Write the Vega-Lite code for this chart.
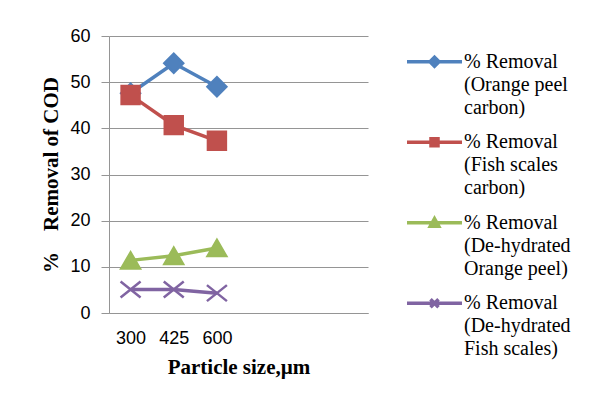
{
  "$schema": "https://vega.github.io/schema/vega-lite/v6.json",
  "autosize": "none",
  "width": 259,
  "height": 277,
  "padding": {"left": 109, "top": 36, "right": 228, "bottom": 95},
  "background": "white",
  "title": {"text": "COD", "offset": 35, "dx": 28, "fontSize": 20, "font": "Liberation Serif", "fontWeight": "bold", "color": "#000"},
  "config": {"view": {"stroke": null}},
  "data": {"values": [
    {"size": "300", "series": "Orange peel carbon", "value": 47.6},
    {"size": "425", "series": "Orange peel carbon", "value": 54.1},
    {"size": "600", "series": "Orange peel carbon", "value": 49.0},
    {"size": "300", "series": "Fish scales carbon", "value": 47.2},
    {"size": "425", "series": "Fish scales carbon", "value": 40.7},
    {"size": "600", "series": "Fish scales carbon", "value": 37.3},
    {"size": "300", "series": "De-hydrated Orange peel", "value": 11.4},
    {"size": "425", "series": "De-hydrated Orange peel", "value": 12.4},
    {"size": "600", "series": "De-hydrated Orange peel", "value": 14.1},
    {"size": "300", "series": "De-hydrated Fish scales", "value": 5.1},
    {"size": "425", "series": "De-hydrated Fish scales", "value": 5.1},
    {"size": "600", "series": "De-hydrated Fish scales", "value": 4.3}
  ]},
  "encoding": {
    "x": {
      "field": "size", "type": "ordinal",
      "scale": {"type": "point", "domain": ["300", "425", "600", "e1", "e2", "e3"], "padding": 0.5},
      "axis": {
        "title": "Particle size,µm", "titleFont": "Liberation Serif", "titleFontSize": 21, "titleFontWeight": "bold", "titleColor": "#000", "titlePadding": 9,
        "labelExpr": "indexof(['300','425','600'], datum.label) >= 0 ? datum.label : ''",
        "labelFont": "Liberation Sans", "labelFontSize": 18, "labelColor": "#000", "labelAngle": 0, "labelPadding": 16,
        "ticks": false, "domainColor": "#959595", "domainWidth": 1, "grid": false
      }
    },
    "y": {
      "field": "value", "type": "quantitative",
      "scale": {"domain": [0, 60], "nice": false},
      "axis": {
        "title": "%\u00a0\u00a0\u00a0\u00a0Removal of COD", "titleFont": "Liberation Serif", "titleFontSize": 21, "titleFontWeight": "bold", "titleColor": "#000", "titlePadding": 8,
        "values": [0, 10, 20, 30, 40, 50, 60],
        "labelFont": "Liberation Sans", "labelFontSize": 18, "labelColor": "#000", "labelPadding": 11,
        "tickSize": 8, "tickColor": "#959595", "domainColor": "#959595", "gridColor": "#959595", "grid": true
      }
    }
  },
  "layer": [
    {
      "mark": {"type": "line", "strokeWidth": 3.5},
      "encoding": {
        "color": {
          "field": "series", "type": "nominal",
          "scale": {"domain": ["Orange peel carbon", "Fish scales carbon", "De-hydrated Orange peel", "De-hydrated Fish scales"], "range": ["#4F81BD", "#C0504D", "#9BBB59", "#8064A2"]},
          "legend": {
            "title": null, "orient": "none", "legendX": 313.5, "legendY": 13.7, "padding": 0,
            "symbolSize": 400, "labelFont": "Liberation Serif", "labelFontSize": 20, "labelColor": "#000",
            "labelOffset": 17.5, "rowPadding": 12.5, "labelLimit": 300,
            "labelExpr": "datum.label == 'Orange peel carbon' ? ['% Removal','(Orange peel','carbon)'] : datum.label == 'Fish scales carbon' ? ['% Removal','(Fish scales','carbon)'] : datum.label == 'De-hydrated Orange peel' ? ['% Removal','(De-hydrated','Orange peel)'] : ['% Removal','(De-hydrated','Fish scales)']",
            "encode": {
              "symbols": {"update": {
                "shape": {"signal": "datum.value == 'Orange peel carbon' ? 'M-2.75,0H2.75M0,-0.45L0.45,0L0,0.45L-0.45,0Z' : datum.value == 'Fish scales carbon' ? 'M-2.75,0H2.75M-0.35,-0.35H0.35V0.35H-0.35Z' : datum.value == 'De-hydrated Orange peel' ? 'M-2.75,0H2.75M0,-0.4L0.42,0.35H-0.42Z' : 'M-2.75,0H2.75M-0.4,-0.4L0.4,0.4M-0.4,0.4L0.4,-0.4'"},
                "fill": {"signal": "scale('color', datum.value)"},
                "stroke": {"signal": "scale('color', datum.value)"},
                "strokeWidth": {"value": 3.5},
                "opacity": {"value": 1}
              }},
              "labels": {"update": {
                "lineHeight": {"value": 23},
                "font": {"value": "Liberation Serif"},
                "fontSize": {"value": 20},
                "fill": {"value": "#000"}
              }}
            }
          }
        }
      }
    },
    {
      "transform": [{"filter": "datum.series == 'Orange peel carbon'"}],
      "mark": {"type": "point", "shape": "diamond", "filled": true, "opacity": 1, "size": 380, "strokeWidth": 2, "fill": "#4F81BD", "stroke": "#4F81BD"}
    },
    {
      "transform": [{"filter": "datum.series == 'Fish scales carbon'"}],
      "mark": {"type": "point", "shape": "square", "filled": true, "opacity": 1, "size": 340, "strokeWidth": 2, "fill": "#C0504D", "stroke": "#C0504D"}
    },
    {
      "transform": [{"filter": "datum.series == 'De-hydrated Orange peel'"}],
      "mark": {"type": "point", "shape": "triangle-up", "filled": true, "opacity": 1, "size": 380, "strokeWidth": 2, "fill": "#9BBB59", "stroke": "#9BBB59"}
    },
    {
      "transform": [{"filter": "datum.series == 'De-hydrated Fish scales'"}],
      "mark": {"type": "point", "shape": "M-1,-0.8L1,0.8M-1,0.8L1,-0.8", "filled": false, "opacity": 1, "size": 400, "strokeWidth": 2.5, "stroke": "#8064A2"}
    }
  ]
}
